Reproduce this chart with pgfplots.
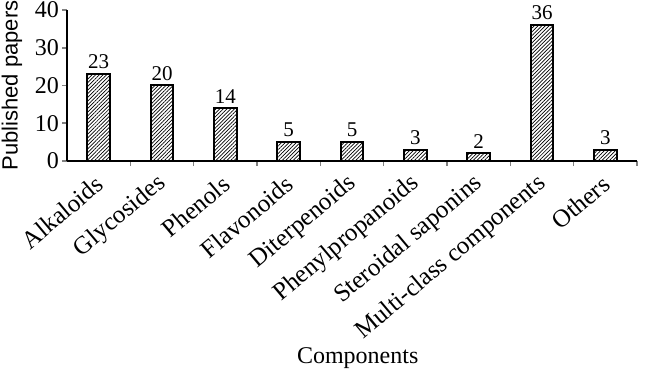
\documentclass[border=0pt]{standalone}
\usepackage{fontspec}
\setmainfont{Liberation Serif}
\setsansfont{Liberation Sans}
\usepackage{pgfplots}
\pgfplotsset{compat=1.18}
\usetikzlibrary{patterns.meta}
\begin{document}
\begin{tikzpicture}
\begin{axis}[
  name=main,
  at={(0,0)}, anchor=south west,
  scale only axis, width=285pt, height=75.5pt,
  xmin=-0.5, xmax=8.5, ymin=0, ymax=40,
  axis lines*=left,
  axis line style={line width=0.9pt},
  ybar, bar width=0.355,
  /pgf/number format/assume math mode=true,
  xtick={0,...,8},
  xticklabels={Alkaloids,Glycosides,Phenols,Flavonoids,Diterpenoids,Phenylpropanoids,Steroidal saponins,Multi-class components,Others},
  minor xtick={0.5,1.5,...,8.5},
  major x tick style={draw=none},
  minor x tick style={line width=0.8pt},
  minor tick length=2.5pt,
  ytick={0,10,20,30,40},
  major y tick style={line width=0.8pt, xshift=-2.5pt},
  major tick length=2.5pt,
  yticklabel style={font=\fontsize{12}{13}\selectfont, xshift=-0.5pt},
  xticklabel style={font=\fontsize{12.5}{13}\selectfont, rotate=40, anchor=east, yshift=-6pt, xshift=-1pt},
  xlabel={Components},
  xlabel style={font=\fontsize{12}{13}\selectfont, at={(axis description cs:0.51,-1.34)}, anchor=base},
  ylabel={Published papers},
  ylabel style={font=\sffamily\fontsize{11}{12}\selectfont, at={(axis description cs:-0.0965,0.5)}, anchor=center},
  nodes near coords,
  every node near coord/.append style={font=\fontsize{10.5}{11}\selectfont, inner sep=2pt},
  clip=false,
]
\addplot[draw=black, line width=1pt, pattern={Lines[angle=45,distance=1.3pt,line width=0.35pt]}]
coordinates {(0,23) (1,20) (2,14) (3,5) (4,5) (5,3) (6,2) (7,36) (8,3)};
\end{axis}
\pgfresetboundingbox
\useasboundingbox (-33.5pt,-104pt) rectangle (289.5pt,80.5pt);
\end{tikzpicture}
\end{document}
